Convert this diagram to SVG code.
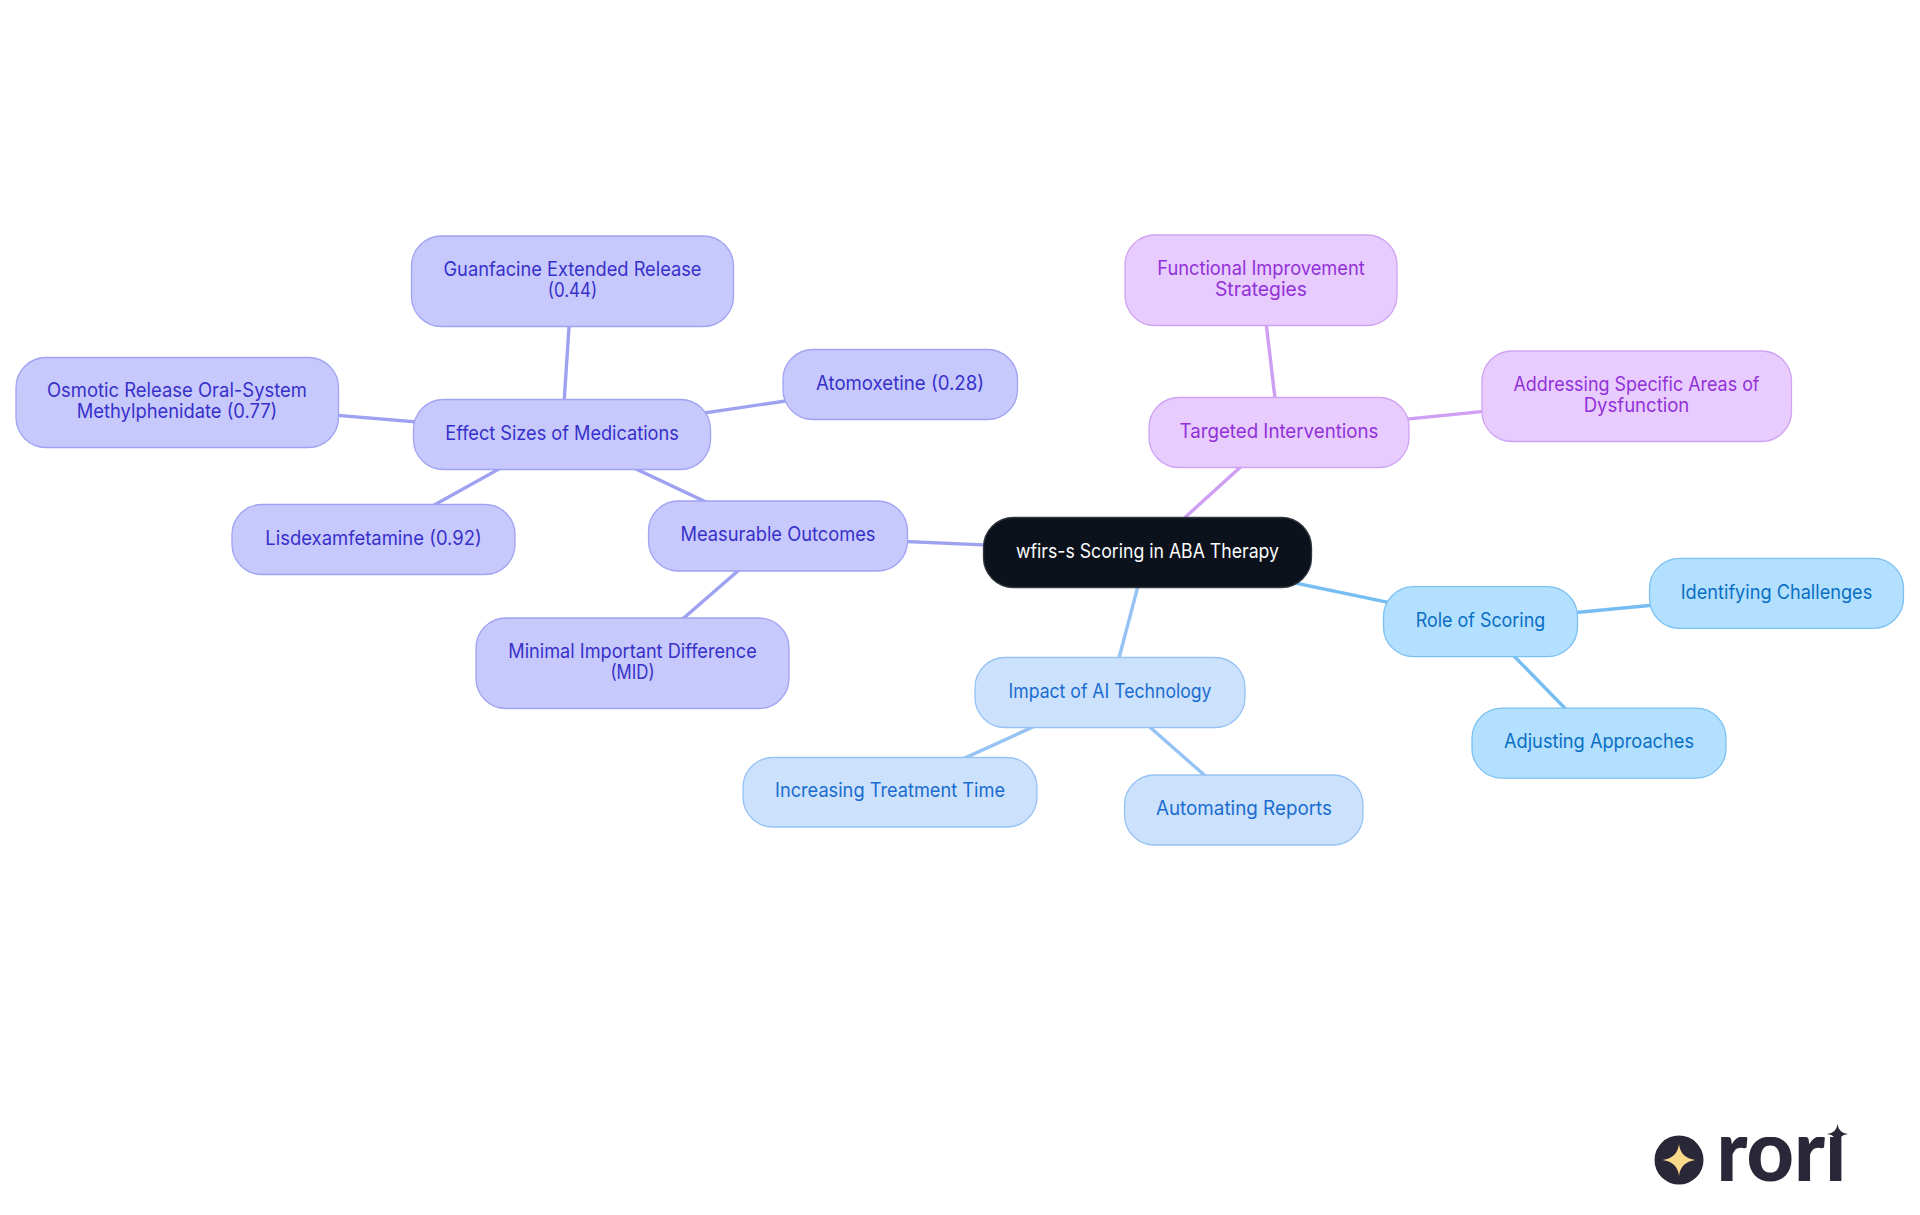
<svg xmlns="http://www.w3.org/2000/svg" width="1920" height="1215" viewBox="0 0 1920 1215">
<style>
text{font-family:"Inter","Noto Sans","Liberation Sans",sans-serif;font-size:19.5px;text-anchor:middle;font-weight:400}
rect{stroke-width:1.3}
#connectors line{stroke-width:3.4;fill:none}
.v rect{fill:#c7c9fd;stroke:#a0a3f2}.v text{fill:#3730c9}
.b rect{fill:#cce2fc;stroke:#96c3f4}.b text{fill:#1a6cd0}
.c rect{fill:#b3e0ff;stroke:#7cc1f3}.c text{fill:#0a6fc4}
.p rect{fill:#e8ccfe;stroke:#d0a2f3}.p text{fill:#9131d8}
.r rect{fill:#0b121b;stroke:#30363d}.r text{fill:#fbfcfd}
.lv{stroke:#9ea1f0}.lb{stroke:#96c3f4}.lc{stroke:#76bdf2}.lp{stroke:#cf9ff3}
.mark{fill:#2a2838}
</style>
<defs>
<clipPath id="wordclip"><rect x="1700" y="1137" width="170" height="50"/></clipPath>
</defs>
<rect width="1920" height="1215" fill="#fff" style="stroke:none"/>
<g id="connectors">
<line class="lv" x1="778" y1="536" x2="1147" y2="552"/>
<line class="lv" x1="562" y1="434" x2="778" y2="536"/>
<line class="lv" x1="632" y1="663" x2="778" y2="536"/>
<line class="lv" x1="562" y1="434" x2="572" y2="281"/>
<line class="lv" x1="562" y1="434" x2="900" y2="384"/>
<line class="lv" x1="562" y1="434" x2="177" y2="402"/>
<line class="lv" x1="562" y1="434" x2="373" y2="539"/>
<line class="lb" x1="1110" y1="692" x2="1147" y2="552"/>
<line class="lb" x1="1110" y1="692" x2="890" y2="792"/>
<line class="lb" x1="1110" y1="692" x2="1244" y2="810"/>
<line class="lc" x1="1480.5" y1="621.700" x2="1147" y2="552"/>
<line class="lc" x1="1480.5" y1="621.700" x2="1777" y2="593.300"/>
<line class="lc" x1="1480.5" y1="621.700" x2="1599" y2="743.200"/>
<line class="lp" x1="1279" y1="432" x2="1147" y2="552"/>
<line class="lp" x1="1279" y1="432" x2="1261" y2="280"/>
<line class="lp" x1="1279" y1="432" x2="1637" y2="396"/>
</g>
<g id="root" class="r"><rect x="983.5" y="517.5" width="328" height="70" rx="30"/><text x="1147.5" y="558" textLength="263" lengthAdjust="spacingAndGlyphs">wfirs-s Scoring in ABA Therapy</text></g>
<g id="measurable" class="v"><rect x="648.5" y="501" width="259" height="70" rx="30"/><text x="778" y="541" textLength="195" lengthAdjust="spacingAndGlyphs">Measurable Outcomes</text></g>
<g id="effect" class="v"><rect x="413.5" y="399.5" width="297" height="70" rx="30"/><text x="562" y="439.5" textLength="233.5" lengthAdjust="spacingAndGlyphs">Effect Sizes of Medications</text></g>
<g id="mid" class="v"><rect x="476" y="618" width="313" height="90.5" rx="30"/><text x="632.5" y="658" textLength="248.5" lengthAdjust="spacingAndGlyphs">Minimal Important Difference</text><text x="632.5" y="679" textLength="44" lengthAdjust="spacingAndGlyphs">(MID)</text></g>
<g id="guanfacine" class="v"><rect x="411.5" y="236" width="322" height="90.5" rx="30"/><text x="572.5" y="276" textLength="258" lengthAdjust="spacingAndGlyphs">Guanfacine Extended Release</text><text x="572.5" y="297" textLength="49.5" lengthAdjust="spacingAndGlyphs">(0.44)</text></g>
<g id="atomoxetine" class="v"><rect x="783" y="349.5" width="234.5" height="70" rx="30"/><text x="900" y="389.5" textLength="168" lengthAdjust="spacingAndGlyphs">Atomoxetine (0.28)</text></g>
<g id="osmotic" class="v"><rect x="16" y="357.5" width="322.5" height="90" rx="30"/><text x="177" y="397" textLength="260" lengthAdjust="spacingAndGlyphs">Osmotic Release Oral-System</text><text x="177" y="418" textLength="200.5" lengthAdjust="spacingAndGlyphs">Methylphenidate (0.77)</text></g>
<g id="lisdexamfetamine" class="v"><rect x="232" y="504.5" width="283" height="70" rx="30"/><text x="373.500" y="544.5" textLength="216.5" lengthAdjust="spacingAndGlyphs">Lisdexamfetamine (0.92)</text></g>
<g id="impact" class="b"><rect x="975" y="657.5" width="270" height="70" rx="30"/><text x="1110" y="698" textLength="203" lengthAdjust="spacingAndGlyphs">Impact of AI Technology</text></g>
<g id="increasing" class="b"><rect x="743" y="757.5" width="294" height="69.5" rx="30"/><text x="890" y="796.500" textLength="230" lengthAdjust="spacingAndGlyphs">Increasing Treatment Time</text></g>
<g id="automating" class="b"><rect x="1124.5" y="775" width="238.5" height="70" rx="30"/><text x="1244" y="815" textLength="176" lengthAdjust="spacingAndGlyphs">Automating Reports</text></g>
<g id="role" class="c"><rect x="1383.5" y="586.7" width="194" height="70" rx="30"/><text x="1480.5" y="627" textLength="129.5" lengthAdjust="spacingAndGlyphs">Role of Scoring</text></g>
<g id="identifying" class="c"><rect x="1649.5" y="558.300" width="254" height="70" rx="30"/><text x="1776.5" y="599" textLength="191.5" lengthAdjust="spacingAndGlyphs">Identifying Challenges</text></g>
<g id="adjusting" class="c"><rect x="1472" y="708.200" width="254" height="70" rx="30"/><text x="1599" y="748.300" textLength="190" lengthAdjust="spacingAndGlyphs">Adjusting Approaches</text></g>
<g id="targeted" class="p"><rect x="1149" y="397.5" width="260" height="70" rx="30"/><text x="1279" y="438" textLength="199" lengthAdjust="spacingAndGlyphs">Targeted Interventions</text></g>
<g id="functional" class="p"><rect x="1125" y="235" width="272" height="90.5" rx="30"/><text x="1261" y="275" textLength="207.5" lengthAdjust="spacingAndGlyphs">Functional Improvement</text><text x="1261" y="296" textLength="92" lengthAdjust="spacingAndGlyphs">Strategies</text></g>
<g id="addressing" class="p"><rect x="1482" y="351" width="309.5" height="90.5" rx="30"/><text x="1636.5" y="391" textLength="246" lengthAdjust="spacingAndGlyphs">Addressing Specific Areas of</text><text x="1636.5" y="412" textLength="105.5" lengthAdjust="spacingAndGlyphs">Dysfunction</text></g>
<g id="logo">
<circle class="mark" cx="1679" cy="1160" r="24.5"/>
<path d="M1679 1144Q1680.5 1158 1695.500 1160Q1680.5 1162 1679 1176Q1677.500 1162 1662.500 1160Q1677.500 1158 1679 1144Z" fill="#fcd98a"/>
<text class="mark" x="1781.500" y="1181" textLength="130" lengthAdjust="spacingAndGlyphs" clip-path="url(#wordclip)" style="font-family:Lato,'Liberation Sans',sans-serif;font-weight:900;font-size:85px">rori</text>
<path class="mark" d="M1837.500 1124Q1838.500 1133 1848 1134Q1838.500 1135 1837.500 1145Q1836.500 1135 1827 1134Q1836.500 1133 1837.500 1124Z"/>
</g>
</svg>
